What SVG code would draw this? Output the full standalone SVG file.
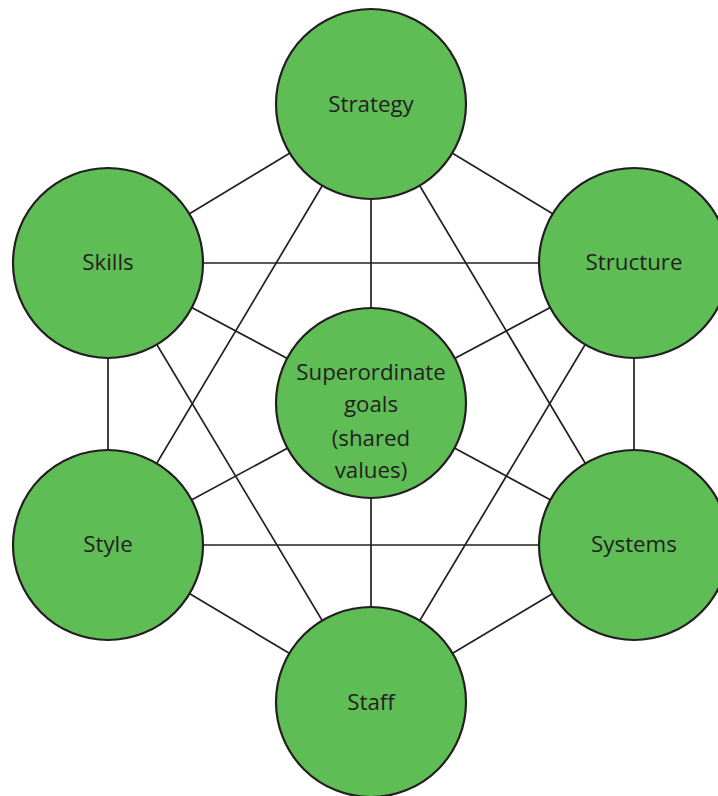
<svg xmlns="http://www.w3.org/2000/svg" width="718" height="796" viewBox="0 0 718 796">
  <style>
    .edge { stroke: #231f20; stroke-width: 1.7; fill: none; }
    .node circle { fill: #5fbd56; stroke: #231f20; stroke-width: 2.2; }
    .node text { font-family: "Open Sans", "Noto Sans", "DejaVu Sans", sans-serif; font-size: 22.3px; fill: #231f20; text-anchor: middle; }
  </style>
  <rect width="718" height="796" fill="#ffffff"/>
  <!-- connectors: spokes, hexagon sides and skip-one chords (centre to centre, hidden under the circles) -->
  <g id="connectors">
    <!-- spokes -->
    <line class="edge" x1="371" y1="403" x2="371" y2="104"/>
    <line class="edge" x1="371" y1="403" x2="634" y2="263"/>
    <line class="edge" x1="371" y1="403" x2="634" y2="545"/>
    <line class="edge" x1="371" y1="403" x2="371" y2="702"/>
    <line class="edge" x1="371" y1="403" x2="108" y2="545"/>
    <line class="edge" x1="371" y1="403" x2="108" y2="263"/>
    <!-- hexagon sides -->
    <line class="edge" x1="371" y1="104" x2="634" y2="263"/>
    <line class="edge" x1="634" y1="263" x2="634" y2="545"/>
    <line class="edge" x1="634" y1="545" x2="371" y2="702"/>
    <line class="edge" x1="371" y1="702" x2="108" y2="545"/>
    <line class="edge" x1="108" y1="545" x2="108" y2="263"/>
    <line class="edge" x1="108" y1="263" x2="371" y2="104"/>
    <!-- skip-one chords -->
    <line class="edge" x1="371" y1="104" x2="634" y2="545"/>
    <line class="edge" x1="634" y1="263" x2="371" y2="702"/>
    <line class="edge" x1="634" y1="545" x2="108" y2="545"/>
    <line class="edge" x1="371" y1="702" x2="108" y2="263"/>
    <line class="edge" x1="108" y1="545" x2="371" y2="104"/>
    <line class="edge" x1="108" y1="263" x2="634" y2="263"/>
  </g>
  <g id="strategy" class="node">
    <circle cx="371" cy="104" r="95"/>
    <text x="371" y="112">Strategy</text>
  </g>
  <g id="structure" class="node">
    <circle cx="634" cy="263" r="95"/>
    <text x="634" y="270">Structure</text>
  </g>
  <g id="systems" class="node">
    <circle cx="634" cy="545" r="95"/>
    <text x="634" y="552">Systems</text>
  </g>
  <g id="staff" class="node">
    <circle cx="371" cy="702" r="95"/>
    <text x="371" y="710">Staff</text>
  </g>
  <g id="style" class="node">
    <circle cx="108" cy="545" r="95"/>
    <text x="108" y="552">Style</text>
  </g>
  <g id="skills" class="node">
    <circle cx="108" cy="263" r="95"/>
    <text x="108" y="270">Skills</text>
  </g>
  <g id="superordinate-goals" class="node">
    <circle cx="371" cy="403" r="95"/>
    <text x="371" y="380">Superordinate</text>
    <text x="371" y="412">goals</text>
    <text x="371" y="446">(shared</text>
    <text x="371" y="478">values)</text>
  </g>
</svg>
